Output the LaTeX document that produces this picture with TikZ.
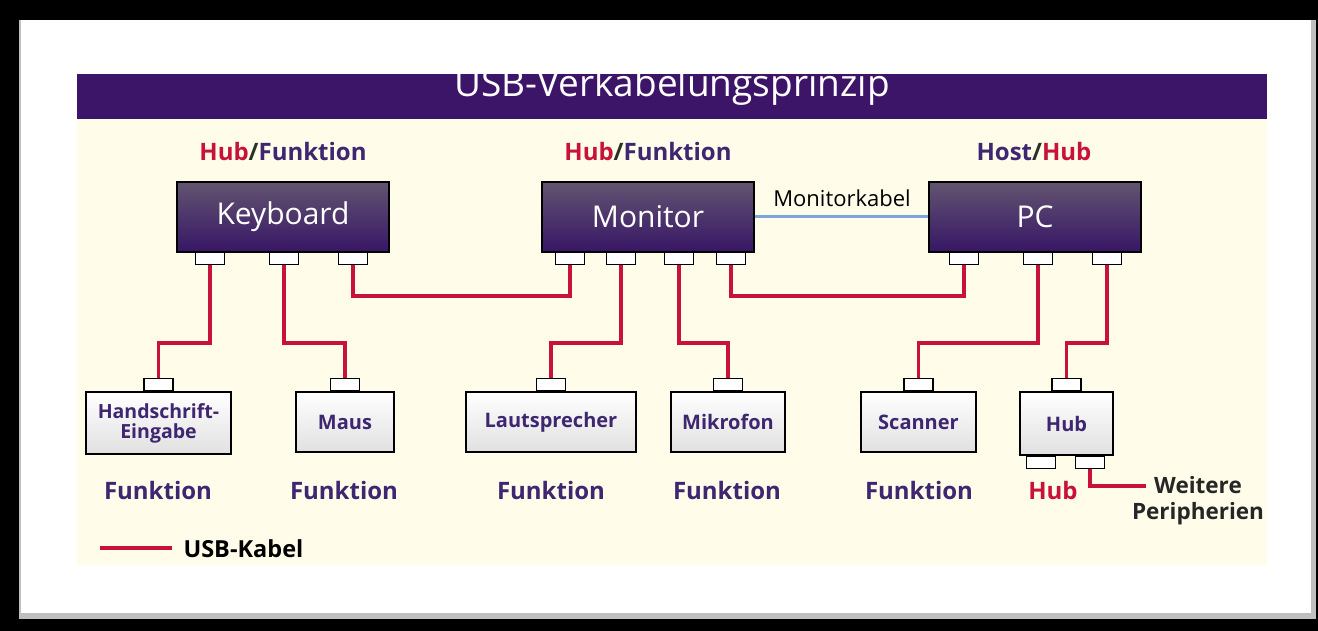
\documentclass[tikz,border=0pt]{standalone}
\usepackage{fontspec}
\setmainfont{Open Sans}
\usetikzlibrary{positioning}
\definecolor{usbred}{RGB}{200,18,58}
\definecolor{titlepurple}{RGB}{60,20,104}
\definecolor{textpurple}{RGB}{62,38,112}
\definecolor{cream}{RGB}{255,253,234}
\definecolor{kabelblue}{RGB}{125,165,215}
\definecolor{boxtop}{RGB}{98,84,112}
\definecolor{boxbot}{RGB}{55,22,102}
\definecolor{slashgray}{RGB}{40,50,40}

\begin{document}
\begin{tikzpicture}[x=1pt,y=-1pt,
  hostbox/.style={draw=black,line width=1.6pt,top color=boxtop,bottom color=boxbot,
    text=white,minimum width=212,minimum height=70,font=\fontsize{30}{32}\selectfont},
  devbox/.style={draw=black,line width=1.5pt,top color=white,bottom color=black!12,
    text=textpurple,minimum height=60,inner sep=0pt,font=\bfseries\fontsize{20}{22}\selectfont},
  usbport/.style={draw=black,line width=1.2pt,fill=white,minimum width=29,minimum height=12,inner sep=0pt},
  usb/.style={usbred,line width=3.5pt},
  rolle/.style={font=\bfseries\fontsize{24}{26}\selectfont,text=textpurple},
  hubtxt/.style={text=usbred}]
\useasboundingbox (0,0) rectangle (1318,631);
%Rahmen
\fill[black] (0,0) rectangle (1318,631);
\fill[black!25] (19,20) rectangle (1316,619);
\fill[white] (21,20) rectangle (1311,613);
%Titel
\fill[cream] (77,119) rectangle (1267,565);
\fill[titlepurple] (77,74) rectangle (1267,119);
\begin{scope}
\clip (77,74) rectangle (1267,119);
\node[text=white,font=\fontsize{37}{38}\selectfont,anchor=base] (titel) at (672,97) {USB-Verkabelungsprinzip};
\end{scope}
%Rollen
\node[rolle] (rkb) at (283,152) {\textcolor{usbred}{Hub}\textcolor{slashgray}{/}Funktion};
\node[rolle] (rmon) at (648,152) {\textcolor{usbred}{Hub}\textcolor{slashgray}{/}Funktion};
\node[rolle] (rpc) at (1034,152) {Host\textcolor{slashgray}{/}\textcolor{usbred}{Hub}};
%Geraete oben
\node[hostbox] (kb) at (283,217) {Keyboard};
\node[hostbox] (mon) at (648,217) {Monitor};
\node[hostbox] (pc) at (1035,217) {PC};
\draw[kabelblue,line width=3pt] (mon.east) -- (pc.west);
\node[font=\fontsize{22}{24}\selectfont] (mkabel) at (842,198) {Monitorkabel};
%Ports oben
\foreach \nm/\x in {kbp1/210,kbp2/284,kbp3/353}
  \node[usbport,anchor=north] (\nm) at (\x,252) {};
\foreach \nm/\x in {monp1/570,monp2/621,monp3/679,monp4/731}
  \node[usbport,anchor=north] (\nm) at (\x,252) {};
\foreach \nm/\x in {pcp1/964,pcp2/1038,pcp3/1107}
  \node[usbport,anchor=north] (\nm) at (\x,252) {};
%Geraete unten
\node[devbox,minimum width=145,minimum height=62,align=center,font=\bfseries\fontsize{19.5}{20}\selectfont] (hw) at (158.5,423) {Handschrift-\\Eingabe};
\node[devbox,minimum width=98] (maus) at (345,422) {Maus};
\node[devbox,minimum width=170] (laut) at (551,422) {Lautsprecher};
\node[devbox,minimum width=114] (mik) at (728,422) {Mikrofon};
\node[devbox,minimum width=115] (scan) at (918.5,422) {Scanner};
\node[devbox,minimum width=93,minimum height=63] (hub) at (1066.5,423.5) {Hub};
\foreach \nm/\dev in {hwp/hw,mausp/maus,lautp/laut,mikp/mik,scanp/scan,hubp/hub}
  \node[usbport,anchor=south] (\nm) at (\dev.north) {};
\node[usbport,anchor=north] (hubq1) at (hub.south -| 1041,0) {};
\node[usbport,anchor=north] (hubq2) at (hub.south -| 1090,0) {};
%USB-Kabel
\coordinate (tief) at (0,343);
\coordinate (hoch) at (0,296);
\draw[usb] (kbp1.south) -- (kbp1 |- tief) -| (hwp.north);
\draw[usb] (kbp2.south) -- (kbp2 |- tief) -| (mausp.north);
\draw[usb] (kbp3.south) -- (kbp3 |- hoch) -| (monp1.south);
\draw[usb] (monp2.south) -- (monp2 |- tief) -| (lautp.north);
\draw[usb] (monp3.south) -- (monp3 |- tief) -| (mikp.north);
\draw[usb] (monp4.south) -- (monp4 |- hoch) -| (pcp1.south);
\draw[usb] (pcp2.south) -- (pcp2 |- tief) -| (scanp.north);
\draw[usb] (pcp3.south) -- (pcp3 |- tief) -| (hubp.north);
\coordinate (weiter) at (1146,486);
\draw[usb] (hubq2.south) |- (weiter);
%Funktion
\foreach \x in {158,344,551,727,919}
  \node[rolle] at (\x,490) {Funktion};
\node[rolle,hubtxt] (hubrolle) at (1053,490) {Hub};
\node[font=\bfseries\fontsize{22.5}{26}\selectfont,text=black!85,align=center] (peri) at (1198,501) {Weitere\\Peripherien};
%Legende
\coordinate (leg1) at (100,548);
\coordinate (leg2) at (172,548);
\draw[usb] (leg1) -- (leg2);
\node[font=\bfseries\fontsize{23.5}{25}\selectfont,anchor=west] (legtxt) at (180,549) {USB-Kabel};
\end{tikzpicture}
\end{document}
